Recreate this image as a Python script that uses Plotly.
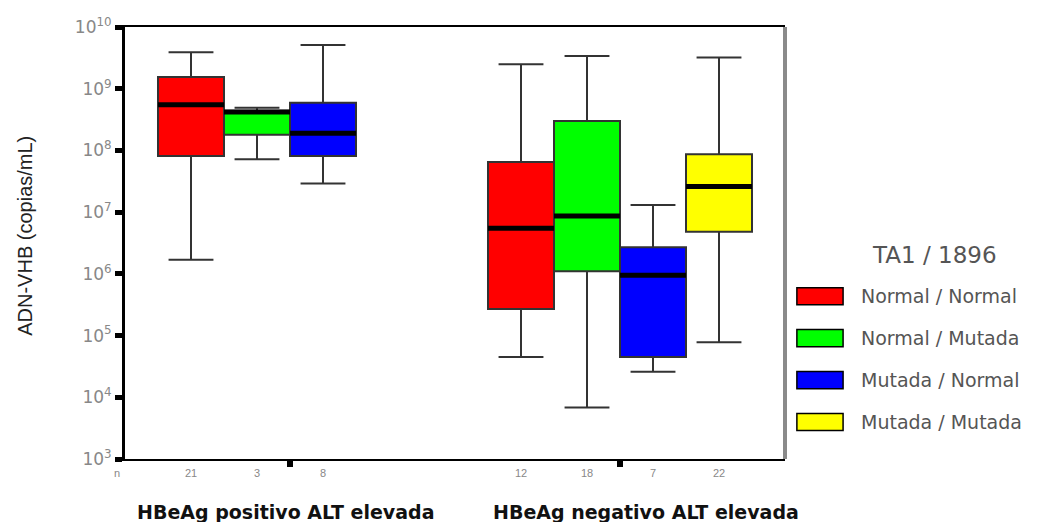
import plotly.graph_objects as go

# ---- data ----
groups = ["HBeAg positivo ALT elevada", "HBeAg negativo ALT elevada"]
series = ["Normal / Normal", "Normal / Mutada", "Mutada / Normal", "Mutada / Mutada"]
colors = ["#ff0000", "#00ff00", "#0000ff", "#ffff00"]

# per series: group indices present, and box statistics (copias/mL)
group_idx = [[0, 1], [0, 1], [0, 1], [1]]
lower = [[1.7e6, 4.5e4], [7.2e7, 6.8e3], [2.9e7, 2.6e4], [7.8e4]]
q1 = [[8.1e7, 2.7e5], [1.8e8, 1.1e6], [8.1e7, 4.5e4], [4.8e6]]
median = [[5.5e8, 5.5e6], [4.2e8, 8.7e6], [1.9e8, 9.5e5], [2.6e7]]
q3 = [[1.55e9, 6.5e7], [4.4e8, 3.0e8], [5.9e8, 2.7e6], [8.7e7]]
upper = [[3.9e9, 2.5e9], [4.9e8, 3.4e9], [5.1e9, 1.3e7], [3.2e9]]
counts = [[21, 12], [3, 18], [8, 7], [22]]

y_exps = list(range(3, 11))

BOXGAP = 0.2
slot = (1 - BOXGAP) / len(series)

fig = go.Figure()
for si, name in enumerate(series):
    fig.add_trace(go.Box(
        name=name, x=group_idx[si],
        q1=q1[si], median=median[si], q3=q3[si],
        lowerfence=lower[si], upperfence=upper[si],
        fillcolor=colors[si], line=dict(color="#333333", width=2),
        whiskerwidth=0.68, showlegend=False, hoverinfo="skip",
    ))

# thick median lines
for si in range(len(series)):
    xs, ys = [], []
    for g, m in zip(group_idx[si], median[si]):
        pos = g + (si - (len(series) - 1) / 2) * slot
        xs += [pos - slot / 2, pos + slot / 2, None]
        ys += [m, m, None]
    fig.add_trace(go.Scatter(x=xs, y=ys, mode="lines",
                             line=dict(color="black", width=5),
                             showlegend=False, hoverinfo="skip"))

annotations = []
# n labels
annotations.append(dict(text="n", xref="paper", yref="paper", x=-0.012, y=-0.032,
                        xanchor="center", yanchor="middle",
                        showarrow=False, font=dict(size=11, color="#888888")))
for si in range(len(series)):
    for g, n in zip(group_idx[si], counts[si]):
        pos = g + (si - (len(series) - 1) / 2) * slot
        annotations.append(dict(text=str(n), xref="x", yref="paper", x=pos, y=-0.032,
                                xanchor="center", yanchor="middle",
                                showarrow=False, font=dict(size=11, color="#888888")))
# group labels
for gx, gname in zip([0.243, 0.789], groups):
    annotations.append(dict(text="<b>" + gname + "</b>", xref="paper", yref="paper",
                            x=gx, y=-0.123, xanchor="center", yanchor="middle",
                            showarrow=False,
                            font=dict(family="DejaVu Sans", size=19, color="#111111")))
# y-axis title
annotations.append(dict(text="ADN-VHB (copias/mL)", xref="paper", yref="paper",
                        x=-0.152, y=0.516, textangle=-90, xanchor="center", yanchor="middle",
                        showarrow=False,
                        font=dict(family="Liberation Sans, Arial", size=20, color="#222222")))

# custom legend
shapes = []
annotations.append(dict(text="TA1 / 1896", xref="paper", yref="paper", x=1.226, y=0.472,
                        xanchor="center", yanchor="middle",
                        showarrow=False, font=dict(family="DejaVu Sans", size=23, color="#555555")))
for si, name in enumerate(series):
    yc = 0.377 - si * 0.0972
    shapes.append(dict(type="rect", xref="paper", yref="paper",
                       x0=1.018, x1=1.088, y0=yc - 0.0197, y1=yc + 0.0197,
                       fillcolor=colors[si], line=dict(color="black", width=1.5)))
    annotations.append(dict(text=name, xref="paper", yref="paper", x=1.112, y=yc,
                            xanchor="left", yanchor="middle", showarrow=False,
                            font=dict(family="DejaVu Sans", size=19, color="#555555")))
# right border (grey)
shapes.append(dict(type="line", xref="paper", yref="paper", x0=1, x1=1, y0=0, y1=1,
                   line=dict(color="#8a8a8a", width=4)))

fig.update_layout(
    width=1044, height=522,
    margin=dict(l=125, r=259, t=27, b=63),
    paper_bgcolor="white", plot_bgcolor="white",
    boxmode="group", boxgap=BOXGAP, boxgroupgap=0,
    font=dict(family="Liberation Sans, Arial"),
    annotations=annotations, shapes=shapes,
    xaxis=dict(range=[-0.5, 1.5], tickvals=[0, 1], showticklabels=False,
               ticks="outside", ticklen=6, tickwidth=6, tickcolor="black",
               showline=True, linecolor="black", linewidth=2, mirror=True,
               showgrid=False, zeroline=False),
    yaxis=dict(type="log", range=[3, 10],
               tickvals=[10 ** e for e in y_exps],
               ticktext=["10<sup>%d</sup>" % e for e in y_exps],
               ticks="outside", ticklen=7, tickwidth=5, tickcolor="black",
               showline=True, linecolor="black", linewidth=3,
               showgrid=False, zeroline=False,
               tickfont=dict(family="DejaVu Sans", size=17, color="#888888")),
)

fig.write_html("out.html")
